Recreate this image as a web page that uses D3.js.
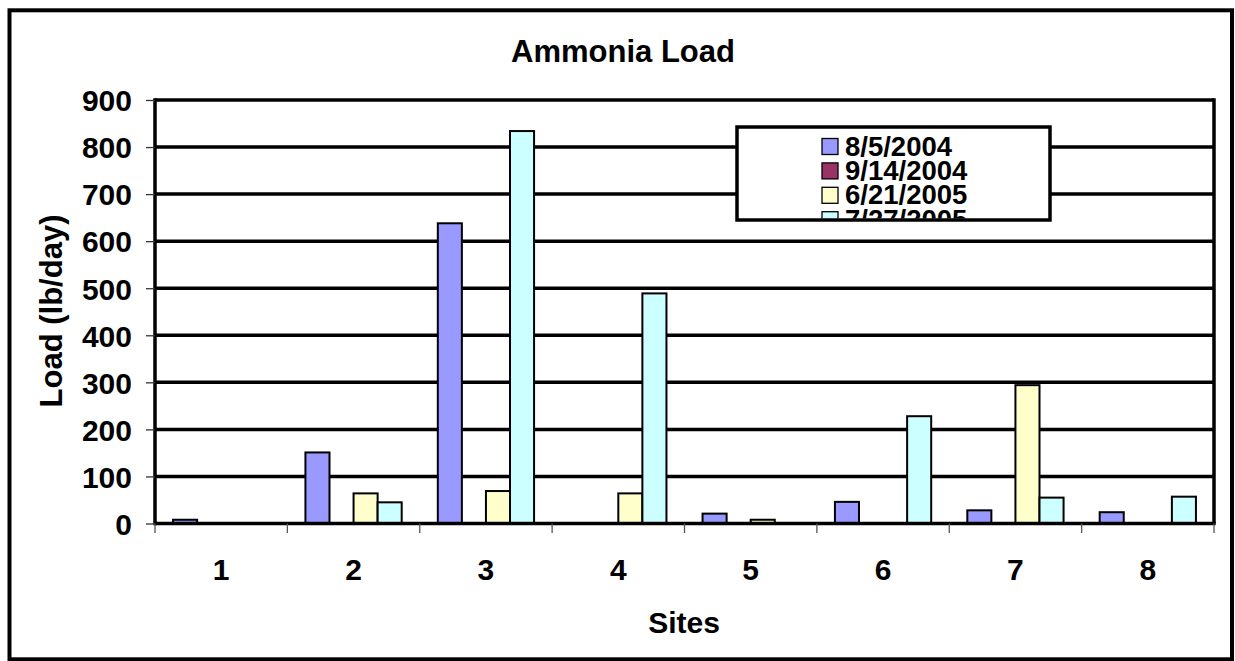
<!DOCTYPE html>
<html>
<head>
<meta charset="utf-8">
<title>Ammonia Load</title>
<style>
  body { margin: 0; background: #fff; }
  svg text { font-family: "Liberation Sans", Arial, sans-serif; font-weight: bold; fill: #000; }
</style>
</head>
<body>
<svg width="1235" height="661"></svg>
<script src="https://d3js.org/d3.v7.min.js"></script>
<script>
// data
var sites = ["1", "2", "3", "4", "5", "6", "7", "8"];
var seriesNames = ["8/5/2004", "9/14/2004", "6/21/2005", "7/27/2005"];
var seriesColors = ["#9999FF", "#993366", "#FFFFCC", "#CCFFFF"];
var load0805 = [8, 151, 638, null, 21, 46, 28, 24];
var load0914 = [null, null, null, null, null, null, null, null];
var load0621 = [null, 64, 69, 64, 8, null, 294, null];
var load0727 = [null, 45, 834, 489, null, 228, 55, 57];
var yTicks = [0, 100, 200, 300, 400, 500, 600, 700, 800, 900];

var allSeries = [load0805, load0914, load0621, load0727];

var svg = d3.select("svg");

// outer frame
svg.append("rect")
  .attr("x", 9.5).attr("y", 10.3)
  .attr("width", 1222.5).attr("height", 649)
  .attr("fill", "#fff").attr("stroke", "#000").attr("stroke-width", 4);

var plotL = 155, plotR = 1214, plotT = 100, plotB = 523.5;

var x = d3.scaleBand().domain(sites).range([plotL, plotR]).padding(0);
var bw = x.bandwidth();
var gap = bw / 5.5 * 1.5;
var xs = d3.scaleBand().domain(d3.range(seriesNames.length)).range([gap / 2, bw - gap / 2]).padding(0);
var y = d3.scaleLinear().domain([0, 900]).range([plotB, plotT]);

// gridlines
svg.append("g").selectAll("line")
  .data(yTicks.slice(1))
  .enter().append("line")
  .attr("x1", plotL).attr("x2", plotR)
  .attr("y1", function(d) { return y(d); })
  .attr("y2", function(d) { return y(d); })
  .attr("stroke", "#000").attr("stroke-width", 3.5);

// right plot border
svg.append("line")
  .attr("x1", plotR).attr("x2", plotR).attr("y1", plotT - 1.7).attr("y2", plotB)
  .attr("stroke", "#000").attr("stroke-width", 3.5);

// bars
var rows = [];
allSeries.forEach(function(vals, s) {
  vals.forEach(function(v, i) {
    if (v != null) rows.push({ s: s, site: sites[i], v: v });
  });
});

svg.append("g").selectAll("rect")
  .data(rows)
  .enter().append("rect")
  .attr("x", function(d) { return x(d.site) + xs(d.s); })
  .attr("width", xs.bandwidth())
  .attr("y", function(d) { return y(d.v); })
  .attr("height", function(d) { return y(0) - y(d.v); })
  .attr("fill", function(d) { return seriesColors[d.s]; })
  .attr("stroke", "#000").attr("stroke-width", 2);

// y axis
var yAxis = svg.append("g")
  .attr("transform", "translate(" + plotL + ",0)")
  .call(d3.axisLeft(y).tickValues(yTicks).tickSize(9).tickPadding(14));
yAxis.select(".domain").attr("stroke", "#000").attr("stroke-width", 3.5)
  .attr("d", "M0," + (plotT - 1.7) + "V" + (plotB + 1.7));
yAxis.selectAll(".tick line").attr("stroke", "#333").attr("stroke-width", 1.3);
yAxis.selectAll(".tick text")
  .attr("font-family", null).attr("font-size", null)
  .style("font-size", "30px").attr("dy", "0.36em");

// x axis
var xAxis = svg.append("g")
  .attr("transform", "translate(0," + plotB + ")");
xAxis.append("line")
  .attr("x1", plotL).attr("x2", plotR + 1.7)
  .attr("stroke", "#000").attr("stroke-width", 3.5);
xAxis.selectAll(".xt")
  .data(sites.concat(["end"]))
  .enter().append("line")
  .attr("class", "xt")
  .attr("x1", function(d, i) { return plotL + i * bw; })
  .attr("x2", function(d, i) { return plotL + i * bw; })
  .attr("y1", 0).attr("y2", 9.5)
  .attr("stroke", "#555").attr("stroke-width", 1.3);
xAxis.selectAll(".xl")
  .data(sites)
  .enter().append("text")
  .attr("class", "xl")
  .attr("x", function(d) { return x(d) + bw / 2; })
  .attr("y", 56.5)
  .attr("text-anchor", "middle")
  .style("font-size", "30px")
  .text(function(d) { return d; });

// titles
svg.append("text")
  .attr("x", 623).attr("y", 62)
  .attr("text-anchor", "middle")
  .style("font-size", "31px")
  .text("Ammonia Load");

svg.append("text")
  .attr("x", 684).attr("y", 633)
  .attr("text-anchor", "middle")
  .style("font-size", "30px")
  .text("Sites");

svg.append("text")
  .attr("transform", "translate(62,311) rotate(-90)")
  .attr("text-anchor", "middle")
  .style("font-size", "31px")
  .text("Load (lb/day)");

// legend
var lg = svg.append("g");
lg.append("clipPath").attr("id", "legclip")
  .append("rect").attr("x", 737).attr("y", 127).attr("width", 313).attr("height", 91.5);
lg.append("rect")
  .attr("x", 737).attr("y", 127).attr("width", 313).attr("height", 93)
  .attr("fill", "#fff");
var items = lg.append("g").attr("clip-path", "url(#legclip)")
  .selectAll("g")
  .data(seriesNames)
  .enter().append("g")
  .attr("transform", function(d, i) { return "translate(0," + (i * 24.4) + ")"; });
items.append("rect")
  .attr("x", 822).attr("y", 138.5)
  .attr("width", 16).attr("height", 16)
  .attr("fill", function(d, i) { return seriesColors[i]; })
  .attr("stroke", "#000").attr("stroke-width", 1.3);
items.append("text")
  .attr("x", 845).attr("y", 155.5)
  .style("font-size", "27.5px")
  .text(function(d) { return d; });
lg.append("rect")
  .attr("x", 737).attr("y", 127).attr("width", 313).attr("height", 93)
  .attr("fill", "none").attr("stroke", "#000").attr("stroke-width", 3.5);
</script>
</body>
</html>
